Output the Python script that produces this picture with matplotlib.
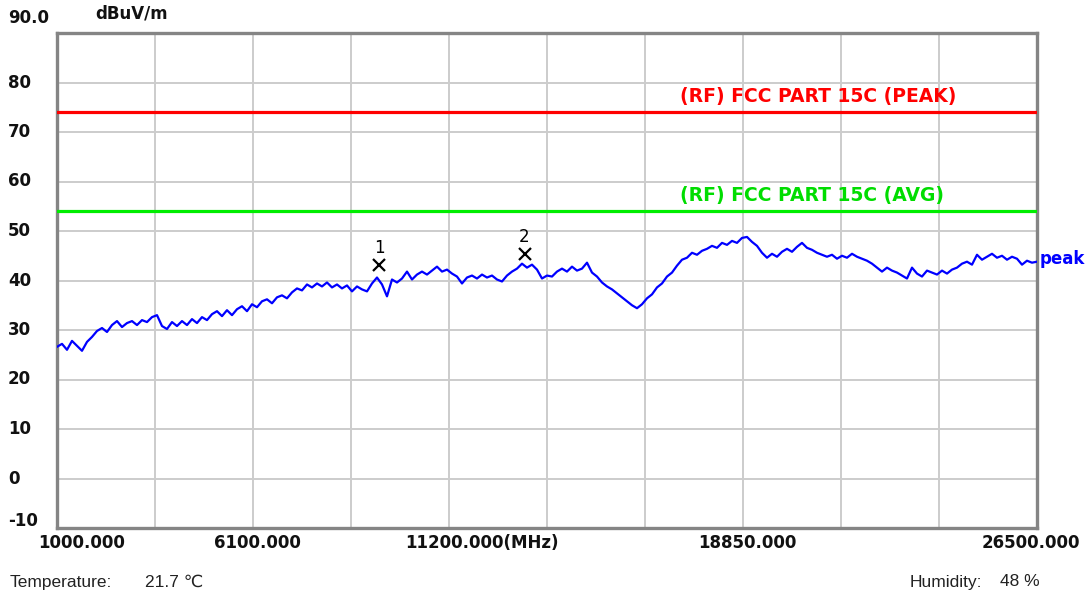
import numpy as np
import matplotlib
matplotlib.use("Agg")
import matplotlib.pyplot as plt

# ---------------- data ----------------
f_start, f_stop = 1000.0, 26500.0
level_dbuv = [
    26.6, 27.2, 26.0, 27.8, 26.8, 25.8, 27.6, 28.6, 29.8, 30.4,
    29.6, 31.0, 31.8, 30.6, 31.4, 31.8, 31.0, 32.0, 31.6, 32.6,
    33.0, 30.8, 30.2, 31.6, 30.8, 31.8, 31.0, 32.2, 31.4, 32.6,
    32.0, 33.2, 33.8, 32.8, 34.0, 33.0, 34.2, 34.8, 33.8, 35.2,
    34.6, 35.8, 36.2, 35.4, 36.6, 37.0, 36.4, 37.6, 38.4, 38.0,
    39.2, 38.6, 39.4, 38.8, 39.6, 38.6, 39.2, 38.4, 39.0, 37.8,
    38.8, 38.2, 37.8, 39.4, 40.6, 39.2, 36.8, 40.2, 39.6, 40.4,
    41.8, 40.2, 41.2, 41.8, 41.2, 42.0, 42.8, 41.8, 42.2, 41.4,
    40.8, 39.4, 40.6, 41.0, 40.4, 41.2, 40.6, 41.0, 40.2, 39.8,
    41.0, 41.8, 42.4, 43.4, 42.6, 43.2, 42.2, 40.4, 41.0, 40.8,
    41.8, 42.4, 41.8, 42.8, 42.0, 42.4, 43.6, 41.6, 40.8, 39.6,
    38.8, 38.2, 37.4, 36.6, 35.8, 35.0, 34.4, 35.2, 36.4, 37.2,
    38.6, 39.4, 40.8, 41.6, 43.0, 44.2, 44.6, 45.6, 45.2, 46.0,
    46.4, 47.0, 46.6, 47.6, 47.2, 48.0, 47.6, 48.6, 48.8, 47.8,
    47.0, 45.6, 44.6, 45.4, 44.8, 45.8, 46.4, 45.8, 46.8, 47.6,
    46.6, 46.2, 45.6, 45.2, 44.8, 45.2, 44.4, 45.0, 44.6, 45.4,
    44.8, 44.4, 44.0, 43.4, 42.6, 41.8, 42.6, 42.0, 41.6, 41.0,
    40.4, 42.6, 41.4, 40.8, 42.0, 41.6, 41.2, 42.0, 41.4, 42.2,
    42.6, 43.4, 43.8, 43.2, 45.2, 44.2, 44.8, 45.4, 44.6, 45.0,
    44.2, 44.8, 44.4, 43.2, 44.0, 43.6, 43.8,
]
freq_mhz = np.linspace(f_start, f_stop, len(level_dbuv))

limit_peak = 74.0
limit_avg = 54.0
limit_peak_label = "(RF) FCC PART 15C (PEAK)"
limit_avg_label = "(RF) FCC PART 15C (AVG)"
limit_label_freq = 17211.0

marker_freq = [9379.0, 13165.0]
marker_level = [43.2, 45.3]
marker_names = ["1", "2"]

xtick_vals = [1000, 6100, 11200, 18850, 26500]
xtick_labels = ["1000.000", "6100.000", "11200.000(MHz)", "18850.000", "26500.000"]
ytick_vals = [90, 80, 70, 60, 50, 40, 30, 20, 10, 0, -10]
ytick_labels = ["90.0", "80", "70", "60", "50", "40", "30", "20", "10", "0", "-10"]

temperature = "21.7 \u2103"
humidity = "48 %"

# ---------------- figure ----------------
W, H = 1089, 595
fig = plt.figure(figsize=(W / 100, H / 100), dpi=100)
ax = fig.add_axes([57 / W, 1 - 528 / H, (1037 - 57) / W, (528 - 33) / H])
ax.set_xlim(f_start, f_stop)
ax.set_ylim(-10, 90)

ax.set_xticks(np.linspace(f_start, f_stop, 11))
ax.set_yticks(np.arange(-10, 91, 10))
ax.tick_params(length=0, labelbottom=False, labelleft=False)
ax.grid(True, color="#cccccc", linewidth=1.4)
ax.set_axisbelow(True)
for s in ax.spines.values():
    s.set_color("#858585")
    s.set_linewidth(2.4)

# limits
ax.axhline(limit_peak, color="#ff0000", linewidth=2.3, zorder=3)
ax.axhline(limit_avg, color="#00ee00", linewidth=2.3, zorder=3)
lim_font = dict(family="DejaVu Sans", fontsize=13.5, fontweight="bold")
ax.text(limit_label_freq, limit_peak + 1.2, limit_peak_label, color="#ff0000",
        ha="left", va="bottom", **lim_font)
ax.text(limit_label_freq, limit_avg + 1.2, limit_avg_label, color="#00dd00",
        ha="left", va="bottom", **lim_font)

# trace
ax.plot(freq_mhz, level_dbuv, color="#0000ff", linewidth=1.6, zorder=4)
ax.annotate("peak", xy=(1.0, level_dbuv[-1]), xycoords=("axes fraction", "data"),
            xytext=(3, 3), textcoords="offset pixels", ha="left", va="center",
            color="#0000ff", fontsize=12, fontweight="bold", annotation_clip=False)

# markers
ax.plot(marker_freq, marker_level, linestyle="none", marker="x", color="black",
        markersize=9, markeredgewidth=1.6, zorder=5)
for fm, lv, nm in zip(marker_freq, marker_level, marker_names):
    ax.annotate(nm, xy=(fm, lv), xytext=(0, 17), textcoords="offset pixels",
                ha="center", va="center", fontsize=12, color="black")

# y labels
yfont = dict(fontsize=12, fontweight="bold", color="#111111")
for v, lab in zip(ytick_vals, ytick_labels):
    dy = 0
    if lab == "90.0":
        dy = 15
    elif lab == "-10":
        dy = 7
    ax.annotate(lab, xy=(0, v), xycoords=("axes fraction", "data"),
                xytext=(-49, dy), textcoords="offset pixels",
                ha="left", va="center", annotation_clip=False, **yfont)
ax.annotate("dBuV/m", xy=(0, 1), xycoords="axes fraction", xytext=(38, 19),
            textcoords="offset pixels", ha="left", va="center",
            annotation_clip=False, **yfont)

# x labels
for i, (v, lab) in enumerate(zip(xtick_vals, xtick_labels)):
    if i == 0:
        ha, dx = "left", -19
    elif i == len(xtick_vals) - 1:
        ha, dx = "right", 43
    elif "(MHz)" in lab:
        ha, dx = "left", -44
    else:
        ha, dx = "center", 4
    ax.annotate(lab, xy=(v, 0), xycoords=("data", "axes fraction"),
                xytext=(dx, -15), textcoords="offset pixels",
                ha=ha, va="center", annotation_clip=False, **yfont)

# footer
foot = dict(fontsize=12.5, color="#222222", family=["Liberation Sans", "DejaVu Sans"])
fig.text(10 / W, 1 - 582 / H, "Temperature:", ha="left", va="center", **foot)
fig.text(145 / W, 1 - 582 / H, temperature, ha="left", va="center", **foot)
fig.text(910 / W, 1 - 582 / H, "Humidity:", ha="left", va="center", **foot)
fig.text(1000 / W, 1 - 582 / H, humidity, ha="left", va="center", **foot)

fig.savefig("out.png", dpi=100, facecolor="white")
